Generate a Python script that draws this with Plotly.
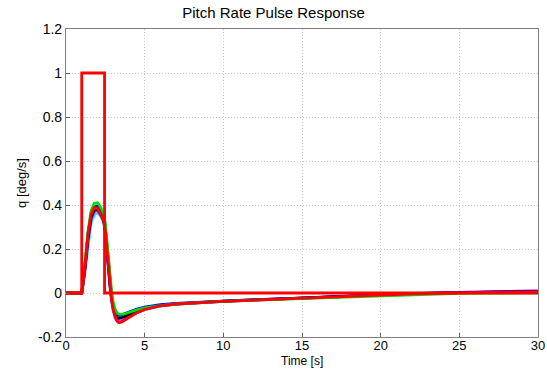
import plotly.graph_objects as go

# Sample times [s] for the closed-loop responses
t = [0, 1.0, 1.2, 1.4, 1.6, 1.8, 2.0, 2.2, 2.4, 2.5, 2.6, 2.7, 2.8, 2.9, 3.0, 3.1, 3.2, 3.3, 3.4, 3.55, 3.7,
     3.85, 4.0, 4.25, 4.5, 5, 5.5, 6, 7, 8, 10, 12, 15, 18, 20, 22, 25, 28, 30]

# Pitch rate q [deg/s] for each parameter case
q_cyan = [0, 0, 0.09, 0.22, 0.32, 0.355, 0.365, 0.35, 0.32, 0.27, 0.19, 0.1, 0.02, -0.04, -0.085, -0.108, -0.12, -0.126, -0.128, -0.126, -0.12,
          -0.114, -0.108, -0.098, -0.09, -0.076, -0.067, -0.06, -0.052, -0.046, -0.038, -0.032, -0.024, -0.013, -0.007, -0.002, 0.003, 0.007, 0.009]
q_magenta = [0, 0, 0.1, 0.24, 0.335, 0.37, 0.375, 0.355, 0.325, 0.275, 0.19, 0.1, 0.025, -0.035, -0.08, -0.108, -0.122, -0.13, -0.132, -0.128, -0.122,
             -0.115, -0.108, -0.098, -0.09, -0.075, -0.066, -0.059, -0.051, -0.046, -0.038, -0.032, -0.024, -0.013, -0.007, -0.002, 0.003, 0.007, 0.009]
q_black = [0, 0, 0.11, 0.25, 0.345, 0.378, 0.38, 0.36, 0.33, 0.28, 0.2, 0.11, 0.035, -0.025, -0.07, -0.095, -0.108, -0.114, -0.115, -0.112, -0.108,
           -0.102, -0.097, -0.089, -0.082, -0.07, -0.062, -0.056, -0.049, -0.044, -0.037, -0.031, -0.023, -0.013, -0.008, -0.003, 0.002, 0.005, 0.006]
q_blue = [0, 0, 0.12, 0.27, 0.36, 0.392, 0.395, 0.375, 0.345, 0.295, 0.215, 0.125, 0.045, -0.015, -0.06, -0.085, -0.097, -0.101, -0.102, -0.099, -0.095,
          -0.09, -0.085, -0.079, -0.073, -0.064, -0.058, -0.053, -0.047, -0.043, -0.036, -0.03, -0.023, -0.013, -0.008, -0.003, 0.002, 0.005, 0.006]
q_green = [0, 0, 0.13, 0.28, 0.375, 0.408, 0.41, 0.39, 0.36, 0.315, 0.24, 0.15, 0.07, 0.005, -0.04, -0.07, -0.085, -0.094, -0.097, -0.097, -0.095,
           -0.092, -0.088, -0.082, -0.077, -0.068, -0.062, -0.057, -0.05, -0.045, -0.038, -0.032, -0.025, -0.016, -0.011, -0.006, -0.002, 0.0, 0.001]
q_red = [0, 0, 0.12, 0.27, 0.36, 0.388, 0.385, 0.36, 0.33, 0.28, 0.2, 0.11, 0.03, -0.03, -0.075, -0.105, -0.122, -0.132, -0.135, -0.132, -0.125,
         -0.117, -0.11, -0.1, -0.09, -0.075, -0.066, -0.058, -0.05, -0.045, -0.038, -0.032, -0.024, -0.014, -0.009, -0.004, 0.001, 0.004, 0.005]

# Commanded pitch-rate pulse
cmd_t = [0, 1.0, 1.0, 2.45, 2.45, 30]
cmd_q = [0, 0, 1, 1, 0, 0]

series = [
    ("cyan", q_cyan, "#00ffff"),
    ("magenta", q_magenta, "#ff00ff"),
    ("black", q_black, "#000000"),
    ("blue", q_blue, "#0000ff"),
    ("green", q_green, "#00dd00"),
    ("red", q_red, "#ff0000"),
]

FONT = "Liberation Sans, Arial"

fig = go.Figure()
for name, q, color in series:
    fig.add_trace(go.Scatter(x=t, y=q, mode="lines", name=name,
                             line=dict(color=color, width=2.8)))
fig.add_trace(go.Scatter(x=cmd_t, y=cmd_q, mode="lines", name="command",
                         line=dict(color="#ff0000", width=2.8)))

axis_common = dict(
    showline=True, linecolor="#808080", linewidth=1.2, mirror=True,
    showgrid=True, gridcolor="#c8c8c8", griddash="1px,2px", gridwidth=1,
    zeroline=False, ticks="inside", ticklen=4, tickcolor="#606060",
    automargin=False,
    tickfont=dict(family=FONT, size=14, color="#000000"),
)

fig.update_layout(
    width=547, height=369,
    margin=dict(l=66, r=9, t=29, b=32),
    paper_bgcolor="white", plot_bgcolor="white",
    showlegend=False,
    title=dict(text="Pitch Rate Pulse Response", x=0.5, xanchor="center",
               y=0.98, yanchor="top",
               font=dict(family=FONT, size=15, color="#000000")),
    xaxis=dict(range=[0, 30], tickvals=[0, 5, 10, 15, 20, 25, 30],
               ticklabelstandoff=-4,
               **{**axis_common, "tickfont": dict(family=FONT, size=13, color="#000000")}),
    yaxis=dict(range=[-0.2, 1.2], tickvals=[-0.2, 0, 0.2, 0.4, 0.6, 0.8, 1, 1.2],
               ticktext=["-0.2", "0", "0.2", "0.4", "0.6", "0.8", "1", "1.2"],
               title=dict(text="q [deg/s]", standoff=8,
                          font=dict(family=FONT, size=13, color="#000000")),
               **axis_common),
    annotations=[dict(text="Time [s]", xref="paper", yref="paper", x=0.5, y=0,
                      xanchor="center", yanchor="middle", yshift=-24, showarrow=False,
                      font=dict(family=FONT, size=12, color="#000000"))],
)

fig.write_html("out.html")
